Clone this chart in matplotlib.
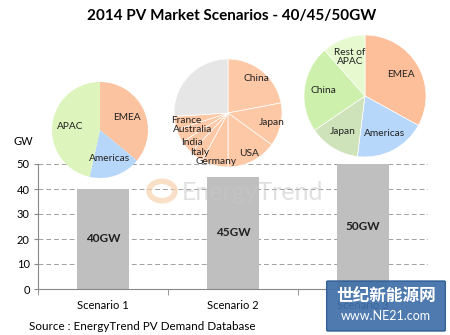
import numpy as np
import matplotlib.pyplot as plt
from matplotlib.patches import FancyBboxPatch, Circle

plt.rcParams['font.family'] = ['Lato', 'DejaVu Sans']

# bar chart data
scenarios = ["Scenario 1", "Scenario 2", "Scenario 3"]
totals = [40, 45, 50]
bar_labels = ["40GW", "45GW", "50GW"]

# pie data (share of demand, %)
pie1_labels = ["EMEA", "Americas", "APAC"]
pie1_values = [36, 17.5, 46.5]
pie1_colors = ["#FCC3A0", "#B7D7FA", "#DDF5BC"]

pie2_labels = ["China", "Japan", "USA", "Germany", "Italy", "India", "Australia", "France", ""]
pie2_values = [22, 13, 15, 8, 4, 4, 4, 4, 26]
pie2_colors = ["#FCC8A6"] * 8 + ["#E6E6E6"]

pie3_labels = ["EMEA", "Americas", "Japan", "China", "Rest of\nAPAC"]
pie3_values = [33, 19, 13.5, 23, 11.5]
pie3_colors = ["#FCBF9A", "#B7D7FA", "#CFE3BA", "#CDF0AC", "#E6F9CF"]

W, H = 450, 335
fig = plt.figure(figsize=(4.5, 3.35), dpi=100)

# main bar axes
ax = fig.add_axes([38 / W, 1 - 289 / H, 390 / W, 125 / H])
x = range(len(scenarios))
ax.bar(x, totals, width=0.4, color="#BFBFBF", zorder=2)
for i, v in enumerate(totals):
    ax.text(i, v / 2, bar_labels[i], ha="center", va="center",
            fontsize=8.5, fontweight="bold", color="#202020", zorder=3)
ax.set_xlim(-0.5, 2.5)
ax.set_ylim(0, 50)
ax.set_yticks(range(0, 51, 10))
ax.set_xticks(list(x))
ax.set_xticklabels(scenarios, fontsize=8)
ax.set_xticks([-0.5, 0.5, 1.5, 2.5], minor=True)
ax.tick_params(axis="x", which="major", length=0, pad=8)
ax.tick_params(axis="x", which="minor", length=4, color="#888888", direction="out")
ax.tick_params(axis="y", length=3, color="#888888", labelsize=8, pad=3)
ax.grid(axis="y", linestyle=(0, (5, 3)), color="#A0A0A0", linewidth=0.7, zorder=0)
for s in ["top", "right"]:
    ax.spines[s].set_visible(False)
for s in ["left", "bottom"]:
    ax.spines[s].set_color("#888888")
    ax.spines[s].set_linewidth(0.8)

fig.text(13 / W, 1 - 142 / H, "GW", fontsize=8, va="center")
fig.text(232 / W, 1 - 16 / H, "2014 PV Market Scenarios - 40/45/50GW",
         ha="center", va="center", fontsize=11, fontweight="bold")
fig.text(29 / W, 1 - 327 / H, "Source : EnergyTrend PV Demand Database",
         fontsize=8.4, va="center")

# faint EnergyTrend watermark
fig.text(252 / W, 1 - 193 / H, "EnergyTrend", ha="center", va="center",
         fontsize=18, color="#C8C8C8", alpha=0.55, zorder=5)
fig.patches.append(Circle((162 / W, 1 - 191 / H), 13 / W, transform=fig.transFigure,
                          facecolor="none", edgecolor="#F6D2AE", linewidth=4,
                          alpha=0.7, zorder=5))


def draw_pie(cx, cy, r, values, labels, colors, dist, edge):
    pax = fig.add_axes([(cx - r) / W, 1 - (cy + r) / H, 2 * r / W, 2 * r / H])
    wedges, _ = pax.pie(values, colors=colors, startangle=90, counterclock=False,
                        wedgeprops=dict(edgecolor="white", linewidth=edge))
    dists = dist if isinstance(dist, list) else [dist] * len(values)
    for w, lab, d in zip(wedges, labels, dists):
        ang = np.deg2rad((w.theta1 + w.theta2) / 2)
        pax.text(d * np.cos(ang), d * np.sin(ang), lab, ha="center", va="center",
                 fontsize=7.3, color="#202020", linespacing=1.0)
    pax.set_xlim(-1, 1)
    pax.set_ylim(-1, 1)
    pax.set_aspect("equal")


draw_pie(100, 130, 48, pie1_values, pie1_labels, pie1_colors, 0.63, 0.0)
draw_pie(228, 113, 54, pie2_values, pie2_labels, pie2_colors,
         [0.84, 0.83, 0.84, 0.92, 0.9, 0.86, 0.72, 0.78, 0.5], 0.5)
draw_pie(365, 96, 61, pie3_values, pie3_labels, pie3_colors, 0.69, 0.5)

# NE21 stamp
fig.patches.append(FancyBboxPatch((328 / W, 1 - 330 / H), 116 / W, 48 / H,
                                  boxstyle="round,pad=0.003", transform=fig.transFigure,
                                  facecolor="#3F6FA8", edgecolor="#2C5A90", alpha=0.92, zorder=6))
fig.text(386 / W, 1 - 296 / H, "世纪新能源网", ha="center", va="center", fontsize=12,
         fontweight="bold", color="white", family=["Noto Sans CJK SC", "DejaVu Sans"], zorder=7)
fig.text(386 / W, 1 - 316 / H, "www.NE21.com", ha="center", va="center", fontsize=9,
         color="white", zorder=7)

fig.savefig("out.png", dpi=100)
